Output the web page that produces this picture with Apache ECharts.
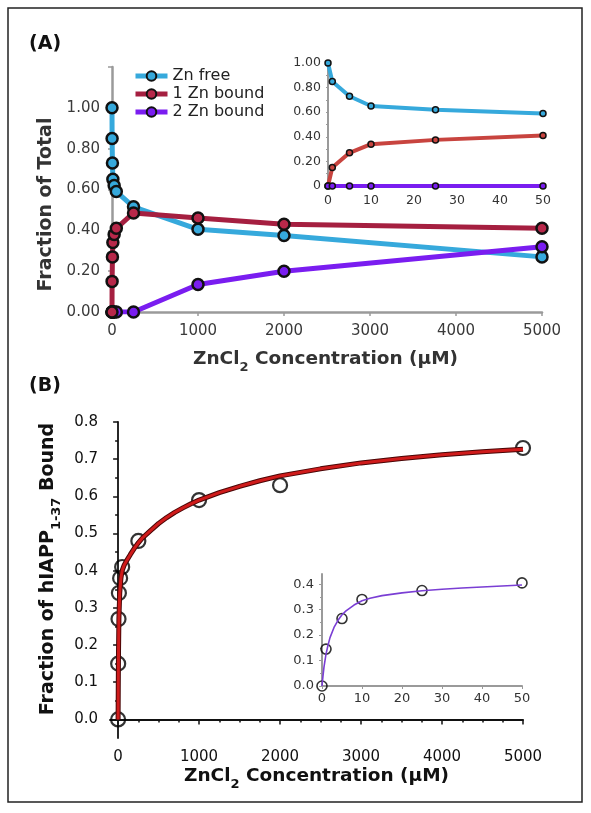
<!DOCTYPE html>
<html><head><meta charset="utf-8">
<script src="https://cdn.jsdelivr.net/npm/echarts@6/dist/echarts.min.js"></script>
<style>html,body{margin:0;padding:0;background:#fff}#c{width:591px;height:813px}</style>
</head><body><div id="c"></div>
<script>
// ---------- data ----------
const concA = [0, 1, 5, 10, 25, 50, 250, 1000, 2000, 5000];
const znFree = [1.00, 0.85, 0.73, 0.65, 0.62, 0.59, 0.515, 0.405, 0.375, 0.27];
const zn1Bound = [0, 0.15, 0.27, 0.34, 0.38, 0.41, 0.485, 0.46, 0.43, 0.41];
const zn2Bound = [0, 0, 0, 0, 0, 0, 0, 0.135, 0.20, 0.32];

const concInset = [0, 1, 5, 10, 25, 50];
const znFreeInset = [1.00, 0.85, 0.73, 0.65, 0.62, 0.59];
const zn1BoundInset = [0, 0.15, 0.27, 0.34, 0.375, 0.41];
const zn2BoundInset = [0, 0, 0, 0, 0, 0];

const concB = [0, 1, 5, 10, 25, 50, 250, 1000, 2000, 5000];
const fracBound = [0, 0.15, 0.27, 0.34, 0.38, 0.41, 0.48, 0.59, 0.63, 0.73];
const fitConcB = [0, 2, 5, 10, 20, 35, 50, 75, 100, 150, 200, 250, 300, 400, 500, 600, 700, 800, 900, 1000, 1250, 1500, 1750, 2000, 2500, 3000, 3500, 4000, 4500, 5000];
const fitB = [0, 0.08, 0.18, 0.27, 0.34, 0.38, 0.40, 0.415, 0.425, 0.443, 0.46, 0.475, 0.488, 0.508, 0.527, 0.543, 0.557, 0.569, 0.58, 0.59, 0.61, 0.627, 0.642, 0.655, 0.674, 0.69, 0.702, 0.712, 0.72, 0.727];

const fracBoundInset = [0, 0.145, 0.265, 0.34, 0.375, 0.405];
const fitConcInset = [0, 0.25, 0.5, 1, 1.5, 2, 3, 4, 5, 6, 8, 10, 12, 15, 20, 25, 30, 35, 40, 45, 50];
const fitInset = [0, 0.04, 0.075, 0.125, 0.16, 0.19, 0.23, 0.258, 0.28, 0.295, 0.318, 0.335, 0.345, 0.355, 0.366, 0.374, 0.380, 0.385, 0.389, 0.393, 0.397];

const ticksXA = [0, 1000, 2000, 3000, 4000, 5000];
const ticksXB = [0, 1000, 2000, 3000, 4000, 5000];
const minorXB = [250, 500, 750, 1250, 1500, 1750, 2250, 2500, 2750, 3250, 3500, 3750, 4250, 4500, 4750];
const ticksYB = [0, 0.1, 0.2, 0.3, 0.4, 0.5, 0.6, 0.7, 0.8];
const minorYB = [0.05, 0.15, 0.25, 0.35, 0.45, 0.55, 0.65, 0.75];
const ticksYBInset = [0, 0.1, 0.2, 0.3, 0.4];
const minorYBInset = [0.05, 0.15, 0.25, 0.35];

// ---------- styling ----------
const F = 'DejaVu Sans';
const C_FREE = '#36a9dc', C_ONE = '#a51f40', C_TWO = '#7a1df0';
const C_ONE_IN = '#c8443f';
const GRAY = '#9a9a9a';
const pairs = (xs, ys) => xs.map((x, i) => [x, ys[i]]);
const plain = v => String(v);

const titleRich = (size, color) => ({
  t: { fontFamily: F, fontWeight: 'bold', fontSize: size, color: color, lineHeight: 30 },
  s: { fontFamily: F, fontWeight: 'bold', fontSize: 13, color: color, verticalAlign: 'bottom' }
});

const chart = echarts.init(document.getElementById('c'), null, { renderer: 'canvas' });

const lbl = (size, color, margin, extra) => Object.assign({ fontFamily: F, fontSize: size, color: color, margin: margin }, extra || {});

const option = {
  animation: false,
  backgroundColor: '#fff',
  grid: [
    { left: 109, top: 67, width: 433, height: 245 },
    { left: 328, top: 63, width: 215, height: 123 },
    { left: 110, top: 422, width: 413, height: 316 },
    { left: 322, top: 574, width: 200, height: 112 }
  ],
  legend: {
    data: ['Zn free', '1 Zn bound', '2 Zn bound'],
    orient: 'vertical', left: 128, top: 63,
    itemWidth: 32, itemHeight: 12, itemGap: 2,
    lineStyle: { width: 5 },
    textStyle: { fontFamily: F, fontSize: 16, color: '#222', lineHeight: 16 }
  },
  xAxis: [
    { gridIndex: 0, type: 'value', min: -35, max: 5000,
      name: '{t|ZnCl}{s|2}{t| Concentration (µM)}', nameLocation: 'middle', nameGap: 32,
      nameTextStyle: { rich: titleRich(18.5, '#333') },
      axisLine: { lineStyle: { color: GRAY, width: 2.5 } },
      axisTick: { show: true, customValues: ticksXA, length: 4, lineStyle: { color: GRAY, width: 1.5 } },
      axisLabel: lbl(15, '#3a3a3a', 12, { customValues: ticksXA, formatter: plain }),
      splitLine: { show: false } },
    { gridIndex: 1, type: 'value', min: 0, max: 50, interval: 10,
      axisLine: { lineStyle: { color: GRAY, width: 2 } },
      axisTick: { show: false },
      axisLabel: lbl(12.5, '#333', 8, { formatter: plain }),
      splitLine: { show: false } },
    { gridIndex: 2, type: 'value', min: -100, max: 5000, position: 'bottom',
      name: '{t|ZnCl}{s|2}{t| Concentration (µM)}', nameLocation: 'middle', nameGap: 23,
      nameTextStyle: { rich: titleRich(18.5, '#111') },
      axisLine: { lineStyle: { color: '#111', width: 1.8 } },
      axisTick: { show: true, customValues: ticksXB, length: 5, lineStyle: { color: '#111', width: 1.5 } },
      axisLabel: lbl(15, '#111', 12, { customValues: ticksXB, formatter: plain }),
      splitLine: { show: false } },
    { gridIndex: 2, type: 'value', min: -100, max: 5000, position: 'bottom',
      axisLine: { show: false },
      axisTick: { show: true, customValues: minorXB, length: 3, lineStyle: { color: '#111', width: 1.5 } },
      axisLabel: { show: false },
      splitLine: { show: false } },
    { gridIndex: 3, type: 'value', min: 0, max: 50, interval: 10,
      axisLine: { lineStyle: { color: GRAY, width: 2 } },
      axisTick: { show: true, length: 3, lineStyle: { color: GRAY } },
      axisLabel: lbl(13, '#333', 6, { formatter: plain }),
      splitLine: { show: false } }
  ],
  yAxis: [
    { gridIndex: 0, type: 'value', min: 0, max: 1.2, interval: 0.2,
      name: 'Fraction of Total', nameLocation: 'middle', nameGap: 49,
      nameTextStyle: { fontFamily: F, fontWeight: 'bold', fontSize: 19, color: '#333', lineHeight: 20, padding: [0, 30, 0, 0] },
      axisLine: { show: true, lineStyle: { color: GRAY, width: 2.5 } },
      axisTick: { show: true, length: 4, lineStyle: { color: GRAY, width: 1.5 } },
      axisLabel: lbl(15, '#3a3a3a', 9, { formatter: v => v > 1.1 ? '' : v.toFixed(2) }),
      splitLine: { show: false } },
    { gridIndex: 1, type: 'value', min: 0, max: 1, interval: 0.2,
      axisLine: { show: true, lineStyle: { color: GRAY, width: 2 } },
      axisTick: { show: true, length: 2, lineStyle: { color: GRAY } },
      minorTick: { show: true, splitNumber: 2, length: 2, lineStyle: { color: GRAY } },
      axisLabel: lbl(12.5, '#333', 7, { formatter: v => v === 0 ? '0' : v.toFixed(2) }),
      splitLine: { show: false } },
    { gridIndex: 2, type: 'value', min: -0.05, max: 0.8, position: 'left',
      name: '{t|Fraction of hIAPP}{s|1-37}{t| Bound}', nameLocation: 'middle', nameGap: 45,
      nameTextStyle: { rich: titleRich(19, '#111'), padding: [0, 0, 0, 22] },
      axisLine: { show: true, lineStyle: { color: '#111', width: 1.8 } },
      axisTick: { show: true, customValues: ticksYB, length: 5, lineStyle: { color: '#111', width: 1.5 } },
      axisLabel: lbl(15, '#111', 12, { customValues: ticksYB, formatter: v => v.toFixed(1) }),
      splitLine: { show: false } },
    { gridIndex: 2, type: 'value', min: -0.05, max: 0.8, position: 'left',
      axisLine: { show: false },
      axisTick: { show: true, customValues: minorYB, length: 3, lineStyle: { color: '#111', width: 1.5 } },
      axisLabel: { show: false },
      splitLine: { show: false } },
    { gridIndex: 3, type: 'value', min: 0, max: 0.44, position: 'left',
      axisLine: { show: true, lineStyle: { color: GRAY, width: 2 } },
      axisTick: { show: true, customValues: ticksYBInset, length: 3, lineStyle: { color: GRAY } },
      axisLabel: lbl(13, '#333', 8, { customValues: ticksYBInset, formatter: v => v.toFixed(1) }),
      splitLine: { show: false } },
    { gridIndex: 3, type: 'value', min: 0, max: 0.44, position: 'left',
      axisLine: { show: false },
      axisTick: { show: true, customValues: minorYBInset, length: 2, lineStyle: { color: GRAY } },
      axisLabel: { show: false },
      splitLine: { show: false } }
  ],
  series: [
    // panel A main
    { name: 'Zn free', type: 'line', xAxisIndex: 0, yAxisIndex: 0, data: pairs(concA, znFree),
      symbol: 'circle', symbolSize: 11,
      lineStyle: { color: C_FREE, width: 5 }, itemStyle: { color: C_FREE, borderColor: '#111', borderWidth: 2.5 } },
    { name: '2 Zn bound', type: 'line', xAxisIndex: 0, yAxisIndex: 0, data: pairs(concA, zn2Bound),
      symbol: 'circle', symbolSize: 11,
      lineStyle: { color: C_TWO, width: 5 }, itemStyle: { color: C_TWO, borderColor: '#111', borderWidth: 2.5 } },
    { name: '1 Zn bound', type: 'line', xAxisIndex: 0, yAxisIndex: 0, data: pairs(concA, zn1Bound),
      symbol: 'circle', symbolSize: 11,
      lineStyle: { color: C_ONE, width: 5 }, itemStyle: { color: '#b8284a', borderColor: '#111', borderWidth: 2.5 } },
    // panel A inset
    { name: 'free-inset', type: 'line', xAxisIndex: 1, yAxisIndex: 1, data: pairs(concInset, znFreeInset),
      symbol: 'circle', symbolSize: 6,
      lineStyle: { color: C_FREE, width: 4 }, itemStyle: { color: C_FREE, borderColor: '#111', borderWidth: 1.5 } },
    { name: 'one-inset', type: 'line', xAxisIndex: 1, yAxisIndex: 1, data: pairs(concInset, zn1BoundInset),
      symbol: 'circle', symbolSize: 6,
      lineStyle: { color: C_ONE_IN, width: 4 }, itemStyle: { color: C_ONE_IN, borderColor: '#111', borderWidth: 1.5 } },
    { name: 'two-inset', type: 'line', xAxisIndex: 1, yAxisIndex: 1, data: pairs(concInset, zn2BoundInset),
      symbol: 'circle', symbolSize: 6,
      lineStyle: { color: C_TWO, width: 4 }, itemStyle: { color: C_TWO, borderColor: '#111', borderWidth: 1.5 } },
    // panel B main
    { name: 'fit-edge', type: 'line', xAxisIndex: 2, yAxisIndex: 2, data: pairs(fitConcB, fitB),
      showSymbol: false, lineStyle: { color: '#4a0606', width: 5, join: 'round' } },
    { name: 'fit', type: 'line', xAxisIndex: 2, yAxisIndex: 2, data: pairs(fitConcB, fitB),
      showSymbol: false, lineStyle: { color: '#cf1b1b', width: 3, join: 'round' } },
    { name: 'points', type: 'scatter', xAxisIndex: 2, yAxisIndex: 2, data: pairs(concB, fracBound),
      symbol: 'circle', symbolSize: 14,
      itemStyle: { color: 'rgba(0,0,0,0)', borderColor: '#000', borderWidth: 2.2 } },
    // panel B inset
    { name: 'fit-inset', type: 'line', xAxisIndex: 4, yAxisIndex: 4, data: pairs(fitConcInset, fitInset),
      showSymbol: false, lineStyle: { color: '#7a3ed4', width: 1.6, join: 'round' } },
    { name: 'points-inset', type: 'scatter', xAxisIndex: 4, yAxisIndex: 4, data: pairs(concInset, fracBoundInset),
      symbol: 'circle', symbolSize: 10,
      itemStyle: { color: 'rgba(0,0,0,0)', borderColor: '#000', borderWidth: 1.6 } }
  ],
  graphic: [
    { type: 'rect', shape: { x: 8, y: 8, width: 574, height: 794 }, style: { fill: 'none', stroke: '#222', lineWidth: 1.5 }, silent: true },
    { type: 'text', left: 29, top: 35, style: { text: '(A)', font: 'bold 19px "DejaVu Sans"', fill: '#111' } },
    { type: 'text', left: 29, top: 377, style: { text: '(B)', font: 'bold 19px "DejaVu Sans"', fill: '#111' } }
  ]
};
chart.setOption(option);
</script></body></html>
